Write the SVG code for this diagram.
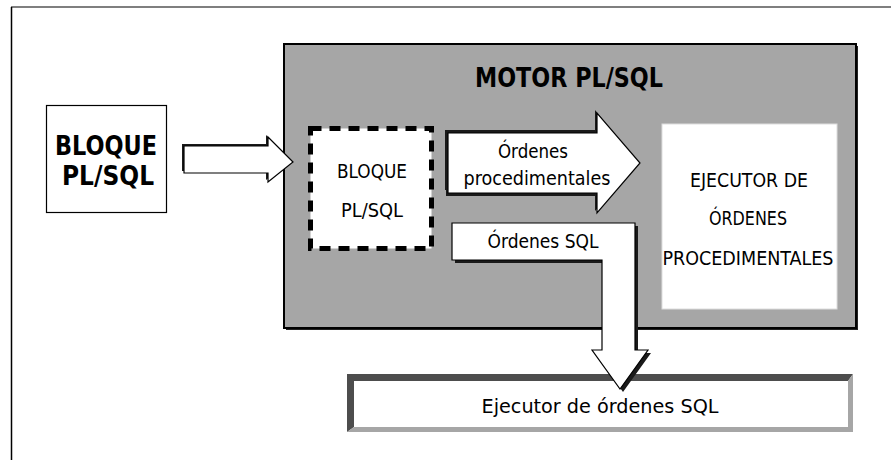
<svg xmlns="http://www.w3.org/2000/svg" width="891" height="460" viewBox="0 0 891 460">
<defs>
<style>
.bold{font-family:"DejaVu Sans Condensed","Liberation Sans",sans-serif;font-weight:bold;fill:#000;text-anchor:middle}
.reg{font-family:"DejaVu Sans Condensed","Liberation Sans",sans-serif;fill:#000;text-anchor:middle}
.arrow{fill:#fff;stroke:#000;stroke-width:1.2;stroke-linejoin:miter}
.shadow{fill:#1a1a1a}
</style>
</defs>
<rect width="891" height="460" fill="#fff"/>
<g id="frame">
<line x1="11" y1="7" x2="891" y2="7" stroke="#555" stroke-width="1.5"/>
<line x1="11.5" y1="7" x2="11.5" y2="460" stroke="#000" stroke-width="1.5"/>
</g>
<g id="motor">
<rect x="286" y="46" width="572" height="284" fill="#222"/>
<rect x="284" y="44" width="572" height="284" fill="#a6a6a6" stroke="#000" stroke-width="2"/>
<text class="bold" x="569" y="87" font-size="27" textLength="188" lengthAdjust="spacingAndGlyphs">MOTOR PL/SQL</text>
</g>
<g id="bloque-externo">
<rect x="46.5" y="105.5" width="120" height="107" fill="#fff" stroke="#000" stroke-width="1.2"/>
<text class="bold" x="106" y="155" font-size="26" textLength="102" lengthAdjust="spacingAndGlyphs">BLOQUE</text>
<text class="bold" x="108" y="185" font-size="26" textLength="92" lengthAdjust="spacingAndGlyphs">PL/SQL</text>
</g>
<g id="bloque-interno">
<rect x="310.5" y="128.5" width="121" height="120" fill="#fff" stroke="#000" stroke-width="5" stroke-dasharray="11 8"/>
<text class="reg" x="372" y="178" font-size="20" textLength="70" lengthAdjust="spacingAndGlyphs">BLOQUE</text>
<text class="reg" x="372" y="217" font-size="20" textLength="62" lengthAdjust="spacingAndGlyphs">PL/SQL</text>
</g>
<g id="ejecutor-proc">
<rect x="662" y="124" width="175" height="185" fill="#fff" stroke="#ddd" stroke-width="1"/>
<text class="reg" x="749" y="187" font-size="20" textLength="118" lengthAdjust="spacingAndGlyphs">EJECUTOR DE</text>
<text class="reg" x="748" y="225" font-size="20" textLength="78" lengthAdjust="spacingAndGlyphs">ÓRDENES</text>
<text class="reg" x="748" y="265" font-size="20" textLength="171" lengthAdjust="spacingAndGlyphs">PROCEDIMENTALES</text>
</g>
<g id="ejecutor-sql">
<polygon points="347,374 853,374 848,381 354,381 354,427 347,432" fill="#4d4d4d"/>
<polygon points="853,374 853,432 347,432 354,427 848,427 848,381" fill="#a6a6a6"/>
<rect x="354" y="381" width="494" height="46" fill="#fff"/>
<text class="reg" x="600" y="413" font-size="20" textLength="237" lengthAdjust="spacingAndGlyphs">Ejecutor de órdenes SQL</text>
</g>
<g id="connectors">
<g id="arrow-entrada">
<path class="shadow" d="M182,144 H266 V135 L291,160 L266,180 V171 H182 Z"/>
<path class="arrow" d="M184,146 H268 V137 L293,162 L268,182 V173 H184 Z"/>
</g>
<g id="arrow-proc">
<path class="shadow" d="M445,130 H595 V110 L638,163 L595,211 V190 H445 Z"/>
<path class="shadow" d="M446,135 H597 V215 L597,196 H446 Z"/>
<path class="arrow" d="M448,133 H597 V113 L640,163 L597,213 V193 H448 Z"/>
<text class="reg" x="533" y="158" font-size="20" textLength="70" lengthAdjust="spacingAndGlyphs">Órdenes</text>
<text class="reg" x="537" y="185" font-size="20" textLength="147" lengthAdjust="spacingAndGlyphs">procedimentales</text>
</g>
<g id="arrow-sql">
<path class="shadow" d="M455,226 H638 V353 H651 L623,392 L595,353 H605 V263 H455 Z"/>
<path class="arrow" d="M452,223 H635 V350 H648 L620,389 L592,350 H602 V260 H452 Z"/>
<text class="reg" x="543" y="248" font-size="20" textLength="111" lengthAdjust="spacingAndGlyphs">Órdenes SQL</text>
</g>
</g>
</svg>
